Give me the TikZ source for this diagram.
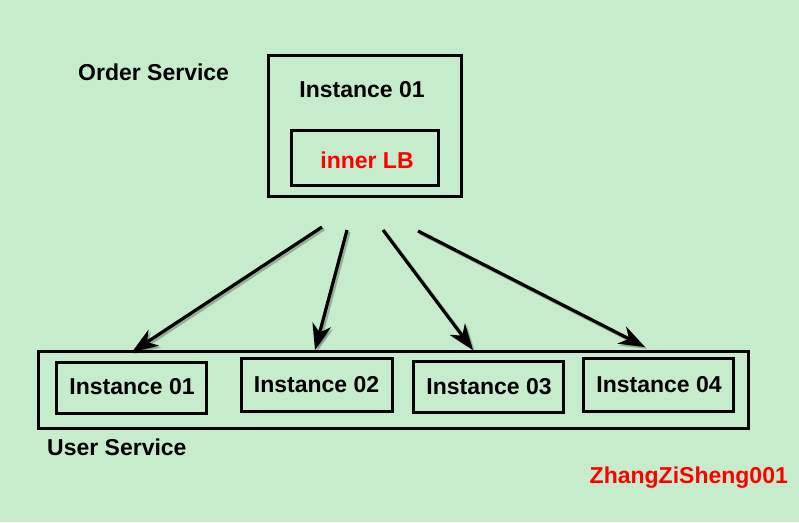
\documentclass[tikz,border=0pt]{standalone}
\usepackage{fontspec}
\setmainfont{Liberation Sans}
\usetikzlibrary{arrows.meta,shadows}
\definecolor{bg}{RGB}{199,236,204}
\definecolor{lbred}{RGB}{255,0,0}
\tikzset{
  box/.style={draw=black, line width=3pt, fill=bg, inner sep=0pt,
    drop shadow={shadow xshift=2pt, shadow yshift=-2pt, opacity=0.35}},
  lbl/.style={font=\fontsize{23}{26}\selectfont\bfseries, inner sep=0pt},
  conn/.style={line width=3.2pt, -{Stealth[length=26pt 0,width=19pt 0,inset=8pt 0]}},
}
\begin{document}
\begin{tikzpicture}[x=1pt,y=-1pt]
\useasboundingbox[fill=bg] (0,0) rectangle (799,522);
% Order service
\node[box, minimum width=193pt, minimum height=141pt] (order) at (364.5,125.5) {};
\node[lbl] (oinst) at (362,90) {Instance 01};
\node[box, minimum width=147pt, minimum height=55pt] (lb) at (364.5,157.5) {};
\node[lbl, text=lbred] (lbt) at (367,160) {inner LB};
\node[lbl, anchor=west] (ordert) at (78,72) {Order Service};
% User service
\node[box, minimum width=710pt, minimum height=77pt] (user) at (393,389.5) {};
\node[box, minimum width=150pt, minimum height=51pt] (u1) at (131,387.5) {};
\node[lbl] at (132,387) {Instance 01};
\node[box, minimum width=151pt, minimum height=53pt] (u2) at (316.5,384.5) {};
\node[lbl] at (316.5,385) {Instance 02};
\node[box, minimum width=150pt, minimum height=51pt] (u3) at (488,386.5) {};
\node[lbl] at (489,387) {Instance 03};
\node[box, minimum width=150pt, minimum height=53pt] (u4) at (658,384.5) {};
\node[lbl] at (659,385) {Instance 04};
\node[lbl, anchor=west] (usert) at (47,447) {User Service};
\node[lbl, text=lbred, anchor=east] (sig) at (788,478) {ZhangZiSheng001};
% connectors
\coordinate (s1) at (322,227);
\coordinate (s2) at (347,230);
\coordinate (s3) at (383,230);
\coordinate (s4) at (418,231);
\coordinate (e1) at (132,352);
\coordinate (e2) at (315,350);
\coordinate (e3) at (473,350);
\coordinate (e4) at (645,347);
\foreach \i in {1,2,3,4} {
  \draw[conn, black, opacity=0.25] ([shift={(2,2)}]s\i) -- ([shift={(2,2)}]e\i);
}
\foreach \i in {1,2,3,4} {
  \draw[conn] (s\i) -- (e\i);
}
\end{tikzpicture}
\end{document}
